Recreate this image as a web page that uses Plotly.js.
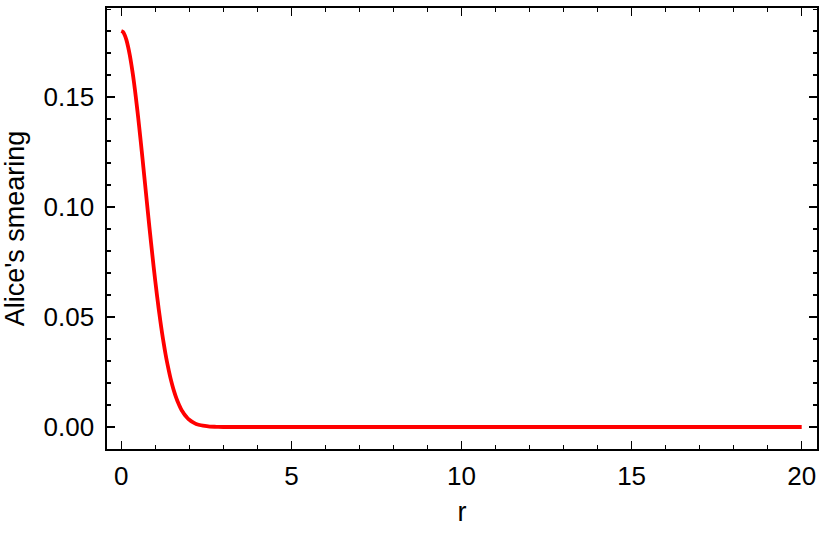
<!DOCTYPE html>
<html><head><meta charset="utf-8">
<script src="https://cdn.plot.ly/plotly-3.0.1.min.js"></script>
<style>body{margin:0;padding:0;background:#fff}#plot{width:830px;height:540px}</style>
</head><body><div id="plot"></div>
<script>
// Values
const r = [0, 0.05, 0.10, 0.15, 0.20, 0.25, 0.30, 0.35, 0.40, 0.45, 0.50, 0.55, 0.60, 0.65, 0.70, 0.75, 0.80, 0.85, 0.90, 0.95, 1.00, 1.05, 1.10, 1.15, 1.20, 1.25, 1.30, 1.35, 1.40, 1.45, 1.50, 1.55, 1.60, 1.65, 1.70, 1.75, 1.80, 1.85, 1.90, 1.95, 2.00, 2.1, 2.2, 2.3, 2.4, 2.6, 2.8, 3.0, 3.5, 5, 10, 15, 20];
const smearing = [0.1800, 0.1796, 0.1782, 0.1760, 0.1729, 0.1691, 0.1645, 0.1593, 0.1534, 0.1470, 0.1402, 0.1330, 0.1256, 0.1180, 0.1103, 0.1026, 0.0949, 0.0874, 0.0801, 0.0730, 0.0662, 0.0598, 0.0537, 0.0480, 0.0426, 0.0378, 0.0332, 0.0291, 0.0254, 0.0220, 0.0190, 0.0163, 0.0139, 0.0118, 0.0100, 0.0084, 0.0070, 0.0059, 0.0049, 0.0040, 0.0033, 0.0022, 0.0014, 0.0009, 0.0006, 0.0002, 0.0001, 0.0000, 0, 0, 0, 0, 0];
const xTicks = [0, 5, 10, 15, 20];
const yTicks = [0.00, 0.05, 0.10, 0.15];
const yTickText = ["0.00", "0.05", "0.10", "0.15"];

const tickFont = {family: "Liberation Sans, Arial, sans-serif", size: 26, color: "#000"};
const titleFont = {family: "Liberation Sans, Arial, sans-serif", size: 27, color: "#000"};
const trace = {x: r, y: smearing, mode: "lines", line: {color: "#ff0000", width: 3.8, shape: "spline", smoothing: 0.8}, hoverinfo: "skip"};
const layout = {
  width: 830, height: 540,
  margin: {l: 107, r: 13, t: 8, b: 91},
  paper_bgcolor: "#fff", plot_bgcolor: "#fff",
  font: tickFont, showlegend: false,
  xaxis: {
    range: [-0.42, 20.45], tickvals: xTicks, ticktext: xTicks.map(String),
    ticks: "inside", ticklen: 8, tickwidth: 1.5, tickcolor: "#000",
    minor: {dtick: 1, ticks: "inside", ticklen: 4, tickwidth: 1.2, tickcolor: "#000"},
    showline: true, linecolor: "#000", linewidth: 1.6, mirror: "allticks",
    showgrid: false, zeroline: false,
    tickfont: tickFont, ticklabelstandoff: 3,
    title: {text: "r", font: titleFont, standoff: 12}
  },
  yaxis: {
    range: [-0.0100, 0.1905], tickvals: yTicks, ticktext: yTickText,
    ticks: "inside", ticklen: 8, tickwidth: 1.5, tickcolor: "#000",
    minor: {dtick: 0.01, ticks: "inside", ticklen: 4, tickwidth: 1.2, tickcolor: "#000"},
    showline: true, linecolor: "#000", linewidth: 1.6, mirror: "allticks",
    showgrid: false, zeroline: false,
    tickfont: tickFont, ticklabelstandoff: 6,
    title: {text: "Alice's smearing", font: titleFont, standoff: 14}
  }
};
Plotly.newPlot("plot", [trace], layout, {staticPlot: true, displayModeBar: false});
</script></body></html>
